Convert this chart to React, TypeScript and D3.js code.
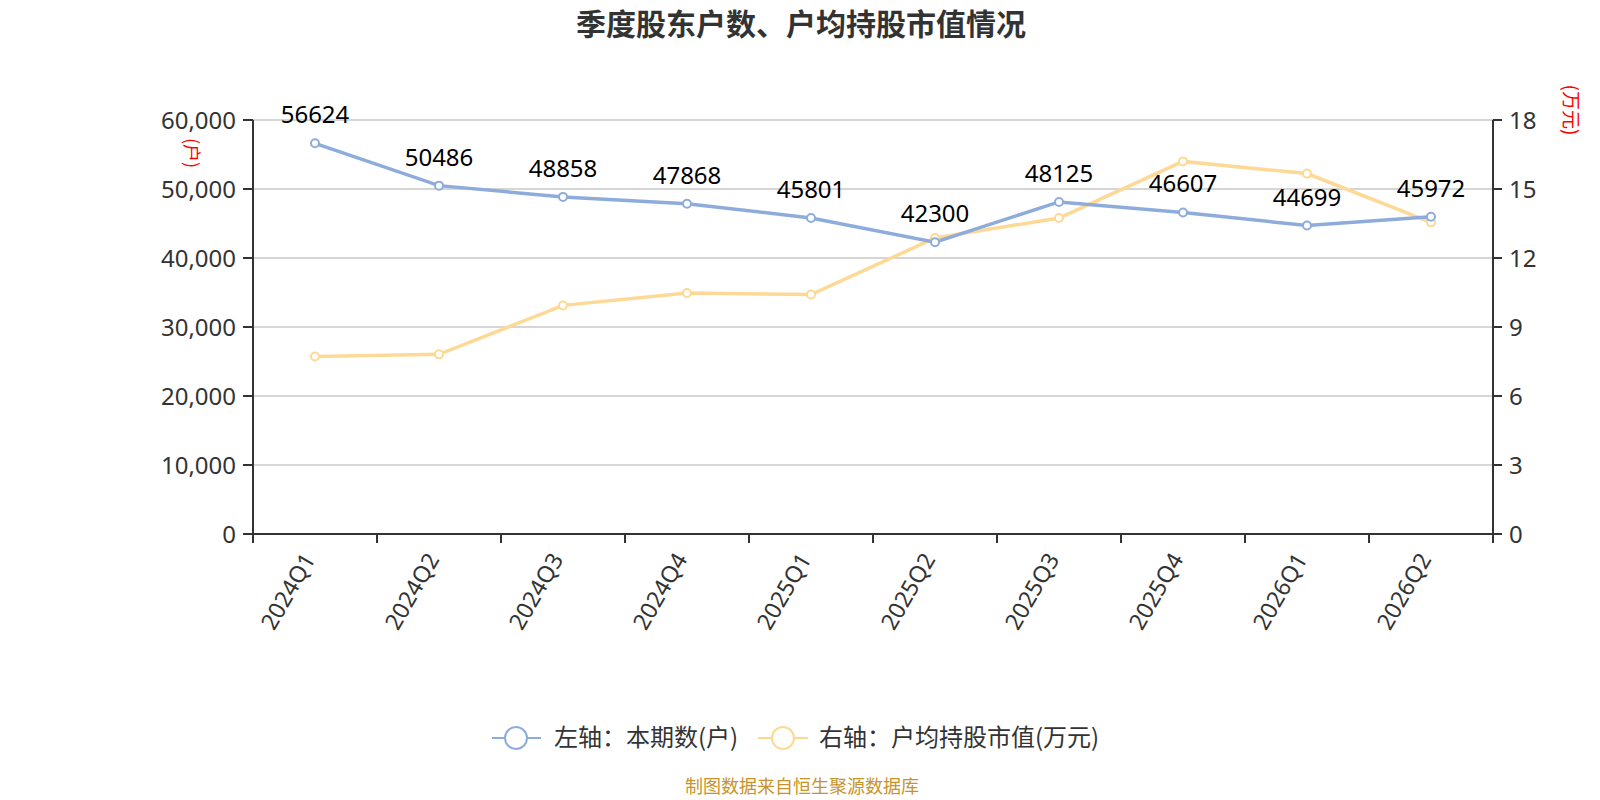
import React, { useEffect } from "react";
import * as d3 from "d3";

const categories = ["2024Q1", "2024Q2", "2024Q3", "2024Q4", "2025Q1", "2025Q2", "2025Q3", "2025Q4", "2026Q1", "2026Q2"];
const holders = [56624, 50486, 48858, 47868, 45801, 42300, 48125, 46607, 44699, 45972];
const avgValue = [7.72, 7.81, 9.94, 10.48, 10.41, 12.87, 13.74, 16.2, 15.67, 13.55];
const leftTicks = [0, 10000, 20000, 30000, 40000, 50000, 60000];
const rightTicks = [0, 3, 6, 9, 12, 15, 18];

const W = 1600;
const H = 800;
const M = { left: 253, right: 1493, top: 120, bottom: 534 };
const BLUE = "#8eacdb";
const YELLOW = "#fed995";
const FONT = "'Noto Sans', 'Noto Sans CJK SC', sans-serif";
const CJK = "'Noto Sans CJK SC', 'Noto Sans', sans-serif";

export default function App() {
  useEffect(() => {
    document.body.style.margin = "0";
  }, []);

  const x = d3.scaleBand<string>().domain(categories).range([M.left, M.right]);
  const yL = d3.scaleLinear().domain([0, 60000]).range([M.bottom, M.top]);
  const yR = d3.scaleLinear().domain([0, 18]).range([M.bottom, M.top]);
  const cx = (c: string) => (x(c) as number) + x.bandwidth() / 2;

  const lineL = d3.line<number>().x((_, i) => cx(categories[i])).y((d) => yL(d));
  const lineR = d3.line<number>().x((_, i) => cx(categories[i])).y((d) => yR(d));
  const fmt = d3.format(",");

  const boundaries = categories.map((c) => x(c) as number).concat([M.right]);

  return (
    <svg width={W} height={H} style={{ display: "block", fontFamily: FONT }}>
      <rect width={W} height={H} fill="#fff" />
      <text x={801} y={35} textAnchor="middle" fontSize={30} fontWeight="bold" fill="#333" fontFamily={CJK}>
        季度股东户数、户均持股市值情况
      </text>

      {/* grid */}
      {leftTicks.filter((t) => t > 0).map((t) => (
        <line key={"g" + t} x1={M.left} x2={M.right} y1={yL(t)} y2={yL(t)} stroke="#c8c8c8" strokeWidth={1.5} />
      ))}

      {/* left axis */}
      <line x1={M.left} x2={M.left} y1={M.top} y2={M.bottom} stroke="#333" strokeWidth={2} />
      {leftTicks.map((t) => (
        <g key={"l" + t}>
          <line x1={M.left - 10} x2={M.left} y1={yL(t)} y2={yL(t)} stroke="#333" strokeWidth={2} />
          <text x={M.left - 17} y={yL(t)} dy="0.36em" textAnchor="end" fontSize={24} fill="#333">
            {fmt(t)}
          </text>
        </g>
      ))}
      <text
        transform={`translate(191,153) rotate(90)`}
        textAnchor="middle"
        dy="0.35em"
        fontSize={18}
        fill="#ff0000"
        fontFamily={CJK}
      >
        (户)
      </text>

      {/* right axis */}
      <line x1={M.right} x2={M.right} y1={M.top} y2={M.bottom} stroke="#333" strokeWidth={2} />
      {rightTicks.map((t) => (
        <g key={"r" + t}>
          <line x1={M.right} x2={M.right + 9} y1={yR(t)} y2={yR(t)} stroke="#333" strokeWidth={2} />
          <text x={M.right + 16} y={yR(t)} dy="0.36em" textAnchor="start" fontSize={24} fill="#333">
            {t}
          </text>
        </g>
      ))}
      <text
        transform={`translate(1571,110) rotate(90)`}
        textAnchor="middle"
        dy="0.35em"
        fontSize={19}
        fill="#ff0000"
        fontFamily={CJK}
      >
        (万元)
      </text>

      {/* x axis */}
      <line x1={M.left} x2={M.right} y1={M.bottom} y2={M.bottom} stroke="#333" strokeWidth={2} />
      {boundaries.map((b, i) => (
        <line key={"xt" + i} x1={b} x2={b} y1={M.bottom} y2={M.bottom + 9} stroke="#333" strokeWidth={2} />
      ))}
      {categories.map((c) => (
        <text
          key={"xl" + c}
          transform={`translate(${cx(c) - 6},${M.bottom + 21}) rotate(-60)`}
          textAnchor="end"
          dy="0.35em"
          fontSize={23}
          fill="#333"
        >
          {c}
        </text>
      ))}

      {/* lines */}
      <path d={lineR(avgValue) as string} fill="none" stroke={YELLOW} strokeWidth={3.5} />
      <path d={lineL(holders) as string} fill="none" stroke={BLUE} strokeWidth={3.5} />
      {avgValue.map((v, i) => (
        <circle key={"pr" + i} cx={cx(categories[i])} cy={yR(v)} r={4} fill="#fff" stroke={YELLOW} strokeWidth={2} />
      ))}
      {holders.map((v, i) => (
        <circle key={"pl" + i} cx={cx(categories[i])} cy={yL(v)} r={4} fill="#fff" stroke={BLUE} strokeWidth={2} />
      ))}
      {holders.map((v, i) => (
        <text key={"dl" + i} x={cx(categories[i])} y={yL(v) - 20} textAnchor="middle" fontSize={24} fill="#000">
          {v}
        </text>
      ))}

      {/* legend */}
      <g fontFamily={CJK}>
        <line x1={492} x2={541} y1={738} y2={738} stroke={BLUE} strokeWidth={2} />
        <circle cx={516} cy={738} r={11} fill="#fff" stroke={BLUE} strokeWidth={2} />
        <text x={554} y={738} dy="0.35em" fontSize={24} fill="#333">左轴：本期数(户)</text>
        <line x1={758} x2={808} y1={738} y2={738} stroke={YELLOW} strokeWidth={2} />
        <circle cx={783} cy={738} r={11} fill="#fff" stroke={YELLOW} strokeWidth={2} />
        <text x={819} y={738} dy="0.35em" fontSize={24} fill="#333">右轴：户均持股市值(万元)</text>
      </g>

      <text x={802} y={793} textAnchor="middle" fontSize={18} fill="#c9922a" fontFamily={CJK}>
        制图数据来自恒生聚源数据库
      </text>
    </svg>
  );
}
